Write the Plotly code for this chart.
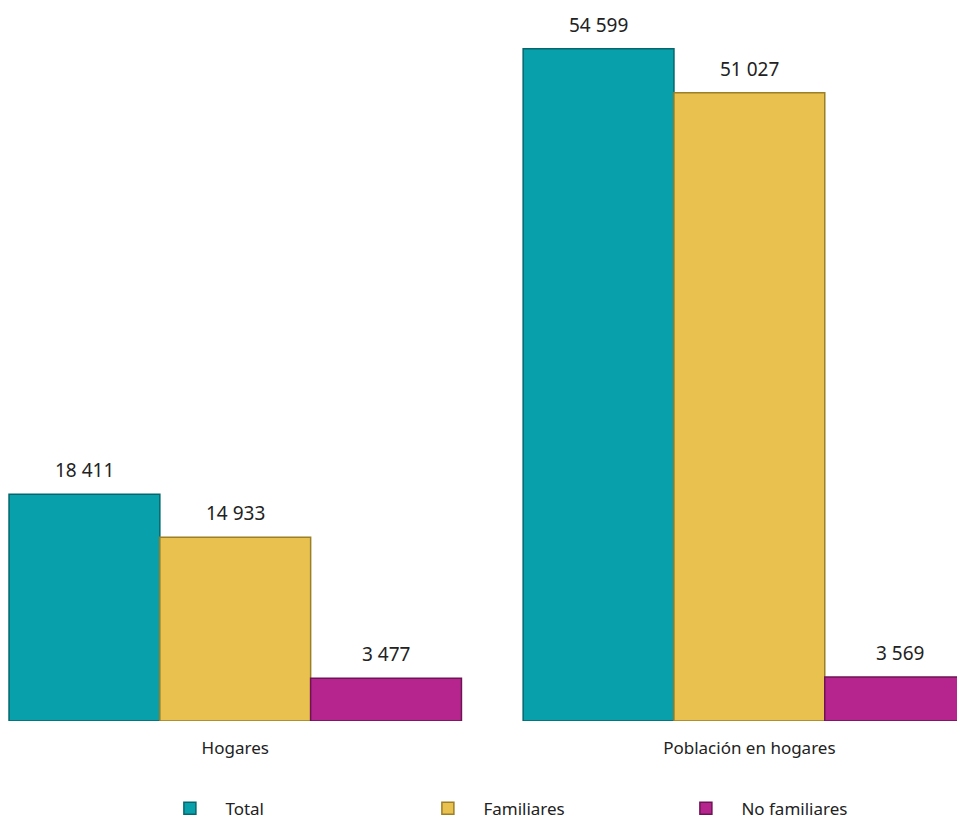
import plotly.graph_objects as go

# Datos
categorias = ["Hogares", "Población en hogares"]
series = ["Total", "Familiares", "No familiares"]
total = [18411, 54599]
familiares = [14933, 51027]
no_familiares = [3477, 3569]

colores = ["#08a1ab", "#e8c14f", "#b6248d"]
bordes = ["#05666d", "#9c7f26", "#6e1456"]

valores = [total, familiares, no_familiares]

bargap = 0.12
ancho = (1 - bargap) / 3

fig = go.Figure()
for i, (nombre, vals) in enumerate(zip(series, valores)):
    fig.add_trace(
        go.Bar(
            x=list(range(len(categorias))),
            y=vals,
            name=nombre,
            marker=dict(color=colores[i], line=dict(color=bordes[i], width=1.5)),
            hoverinfo="skip",
        )
    )
    # etiquetas de valor sobre cada barra
    for j, v in enumerate(vals):
        fig.add_annotation(
            x=j + (i - 1) * ancho,
            y=v,
            text=f"{v:,}".replace(",", " "),
            showarrow=False,
            yanchor="bottom",
            yshift=9,
            font=dict(size=19, color="#222222"),
        )

fig.update_layout(
    width=965,
    height=821,
    barmode="group",
    bargap=bargap,
    bargroupgap=0,
    plot_bgcolor="white",
    paper_bgcolor="white",
    font=dict(family="Noto Sans, Open Sans, sans-serif", color="#222222"),
    margin=dict(l=0, r=0, t=0, b=108, autoexpand=False),
    xaxis=dict(
        tickmode="array",
        tickvals=list(range(len(categorias))),
        ticktext=categorias,
        range=[-0.442, 1.435],
        showgrid=False,
        zeroline=False,
        showline=False,
        ticks="outside",
        ticklen=12,
        tickcolor="white",
        tickfont=dict(size=17),
    ),
    yaxis=dict(
        range=[0, 57910],
        visible=False,
        showgrid=False,
    ),
    legend=dict(
        orientation="h",
        x=0.1517,
        xanchor="left",
        y=-0.123,
        yanchor="middle",
        entrywidth=182,
        entrywidthmode="pixels",
        itemwidth=61,
        font=dict(size=17),
        traceorder="normal",
    ),
    showlegend=True,
)

fig.write_html("out.html")
